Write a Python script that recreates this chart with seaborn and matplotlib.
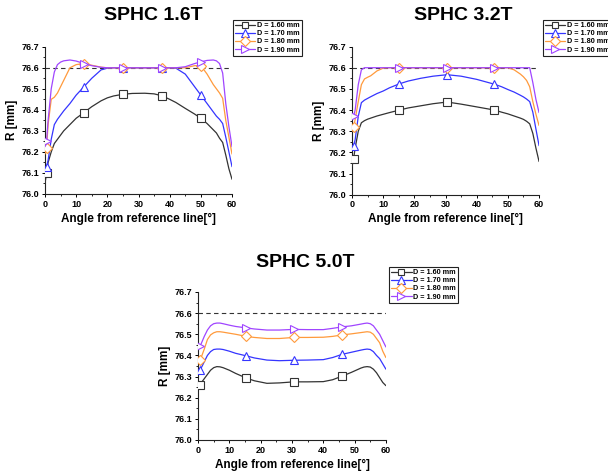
import numpy as np
import pandas as pd
import matplotlib
matplotlib.use("Agg")
import matplotlib.pyplot as plt
from matplotlib.lines import Line2D
from matplotlib.ticker import MultipleLocator
import seaborn as sns

## data
labels = ["D = 1.60 mm", "D = 1.70 mm", "D = 1.80 mm", "D = 1.90 mm"]
titles = ["SPHC 1.6T", "SPHC 3.2T", "SPHC 5.0T"]

# SPHC 1.6T
ang_16 = [0, 0.5, 1, 2, 3, 4, 5, 6, 8, 10, 12.5, 15, 18, 20, 22, 25, 28, 32, 35, 37.5,
          40, 42, 45, 48, 50, 52, 54, 55, 56, 57, 58, 59, 60]
r16_160 = [76.05, 76.10, 76.15, 76.20, 76.24, 76.26, 76.28, 76.30, 76.33, 76.36, 76.387, 76.415,
           76.443, 76.457, 76.466, 76.474, 76.478, 76.479, 76.476, 76.467, 76.45, 76.435, 76.407,
           76.38, 76.36, 76.335, 76.305, 76.29, 76.265, 76.245, 76.185, 76.12, 76.07]
r16_170 = [76.12, 76.13, 76.16, 76.26, 76.33, 76.355, 76.375, 76.395, 76.43, 76.47, 76.51, 76.55,
           76.59, 76.598, 76.60, 76.60, 76.60, 76.60, 76.60, 76.60, 76.60, 76.598, 76.57,
           76.51, 76.47, 76.43, 76.39, 76.37, 76.355, 76.335, 76.27, 76.20, 76.13]
r16_180 = [76.19, 76.22, 76.33, 76.45, 76.46, 76.48, 76.51, 76.54, 76.60, 76.615, 76.62, 76.612,
           76.603, 76.60, 76.60, 76.60, 76.60, 76.60, 76.60, 76.60, 76.60, 76.60, 76.60,
           76.61, 76.61, 76.57, 76.52, 76.50, 76.48, 76.455, 76.35, 76.27, 76.19]
r16_190 = [76.225, 76.25, 76.35, 76.50, 76.58, 76.615, 76.627, 76.633, 76.637, 76.632, 76.62, 76.61,
           76.602, 76.60, 76.60, 76.60, 76.60, 76.60, 76.60, 76.60, 76.60, 76.60, 76.605,
           76.62, 76.628, 76.635, 76.637, 76.633, 76.62, 76.575, 76.43, 76.32, 76.225]
mark_16 = [1, 10, 15, 19, 24]

# SPHC 3.2T
ang_32 = [0, 0.5, 1, 2, 3, 4, 5, 6, 8, 10, 12, 15.2, 18, 22, 26, 30.5, 35, 40, 45.7, 48,
          50, 52, 54, 55, 56, 57, 58, 59, 60]
r32_160 = [76.134, 76.17, 76.22, 76.30, 76.34, 76.35, 76.357, 76.362, 76.372, 76.38, 76.388, 76.40,
           76.41, 76.42, 76.43, 76.438, 76.428, 76.415, 76.40, 76.39, 76.382, 76.372, 76.362,
           76.356, 76.347, 76.335, 76.29, 76.22, 76.157]
r32_170 = [76.23, 76.23, 76.26, 76.37, 76.435, 76.447, 76.455, 76.463, 76.478, 76.49, 76.505, 76.524,
           76.537, 76.55, 76.56, 76.567, 76.56, 76.545, 76.522, 76.51, 76.497, 76.485, 76.47,
           76.462, 76.452, 76.44, 76.39, 76.31, 76.232]
r32_180 = [76.30, 76.32, 76.355, 76.44, 76.52, 76.547, 76.555, 76.562, 76.585, 76.598, 76.60, 76.60,
           76.60, 76.60, 76.60, 76.60, 76.60, 76.60, 76.60, 76.60, 76.60, 76.59, 76.57,
           76.557, 76.54, 76.51, 76.44, 76.38, 76.327]
r32_190 = [76.378, 76.37, 76.40, 76.52, 76.59, 76.60, 76.60, 76.60, 76.60, 76.60, 76.60, 76.60,
           76.60, 76.60, 76.60, 76.60, 76.60, 76.60, 76.60, 76.60, 76.60, 76.60, 76.60,
           76.60, 76.60, 76.60, 76.53, 76.45, 76.388]
mark_32 = [1, 11, 15, 18]

# SPHC 5.0T
ang_50 = [0, 0.5, 1, 2, 3, 4, 5, 6, 7, 8, 10, 12, 15.4, 18, 22, 26, 30.6, 35, 40, 43,
          46, 49, 52, 53, 54, 55, 56, 57, 58, 59, 60]
r50_160 = [76.252, 76.258, 76.27, 76.29, 76.31, 76.33, 76.342, 76.347, 76.346, 76.342, 76.33, 76.315,
           76.293, 76.28, 76.268, 76.27, 76.275, 76.275, 76.276, 76.285, 76.302, 76.32, 76.34,
           76.345, 76.347, 76.345, 76.335, 76.318, 76.295, 76.272, 76.257]
r50_170 = [76.33, 76.33, 76.34, 76.37, 76.40, 76.418, 76.428, 76.43, 76.43, 76.428, 76.42, 76.41,
           76.398, 76.388, 76.378, 76.375, 76.377, 76.378, 76.38, 76.39, 76.405, 76.415, 76.425,
           76.428, 76.43, 76.428, 76.418, 76.40, 76.385, 76.36, 76.335]
r50_180 = [76.375, 76.38, 76.39, 76.43, 76.475, 76.497, 76.507, 76.512, 76.512, 76.51, 76.505, 76.50,
           76.49, 76.485, 76.48, 76.48, 76.485, 76.485, 76.486, 76.49, 76.497, 76.502, 76.508,
           76.51, 76.512, 76.51, 76.50, 76.48, 76.46, 76.42, 76.39]
r50_190 = [76.44, 76.445, 76.455, 76.49, 76.52, 76.54, 76.55, 76.553, 76.553, 76.55, 76.543, 76.537,
           76.53, 76.525, 76.52, 76.52, 76.523, 76.522, 76.522, 76.528, 76.535, 76.54, 76.548,
           76.551, 76.553, 76.55, 76.54, 76.52, 76.50, 76.47, 76.44]
mark_50 = [1, 12, 16, 20]

colors = ["#333333", "#3535FF", "#FF9A3C", "#A045FF"]
markers = ["s", "^", "D", ">"]
msizes = [5.5, 6, 5.2, 6]

sns.set_style("ticks")
plt.rcParams["font.family"] = ["Liberation Sans", "DejaVu Sans"]
plt.rcParams["font.weight"] = "bold"
plt.rcParams["text.color"] = "black"
plt.rcParams["axes.labelcolor"] = "black"
plt.rcParams["xtick.color"] = "black"
plt.rcParams["ytick.color"] = "black"

fig = plt.figure(figsize=(6.08, 4.75), dpi=100)
axes_pos = [[0.074, 0.5916, 0.3076, 0.310],
            [0.579, 0.590, 0.3076, 0.312],
            [0.3257, 0.0737, 0.309, 0.3116]]
title_pos = [(0.2516, 0.968), (0.7615, 0.968), (0.5016, 0.4484)]
legend_pos = [(0.383, 0.958), (0.893, 0.958), (0.640, 0.438)]

panels = [(ang_16, [r16_160, r16_170, r16_180, r16_190], mark_16),
          (ang_32, [r32_160, r32_170, r32_180, r32_190], mark_32),
          (ang_50, [r50_160, r50_170, r50_180, r50_190], mark_50)]

for k, (ang, series, marks) in enumerate(panels):
    ax = fig.add_axes(axes_pos[k])
    ax.axhline(76.6, ls=(0, (4, 3)), color="#333333", lw=0.8, zorder=1)
    for i, vals in enumerate(series):
        sns.lineplot(x=ang, y=vals, ax=ax, color=colors[i], lw=0.9, marker=markers[i],
                     markevery=marks, ms=msizes[i], mfc="white", mec=colors[i], mew=0.8,
                     zorder=3 + i)
    ax.set_xlim(0, 60)
    ax.set_ylim(76.0, 76.7)
    ax.xaxis.set_major_locator(MultipleLocator(10))
    ax.xaxis.set_minor_locator(MultipleLocator(5))
    ax.yaxis.set_major_locator(MultipleLocator(0.1))
    ax.yaxis.set_minor_locator(MultipleLocator(0.05))
    ax.yaxis.set_major_formatter(plt.FormatStrFormatter("%.1f"))
    ax.tick_params(which="major", direction="out", length=2.5, width=0.7, labelsize=6.5, pad=1.5)
    ax.tick_params(which="minor", direction="out", length=1.5, width=0.6)
    for lab in ax.get_xticklabels() + ax.get_yticklabels():
        lab.set_fontweight("bold")
    sns.despine(ax=ax)
    for s in ["left", "bottom"]:
        ax.spines[s].set_linewidth(0.8)
        ax.spines[s].set_color("#222222")
    ax.set_xlabel("Angle from reference line[°]", fontsize=8.5, fontweight="bold", labelpad=3)
    ax.set_ylabel("R [mm]", fontsize=8.5, fontweight="bold", labelpad=3)
    fig.text(title_pos[k][0], title_pos[k][1], titles[k], ha="center", va="center",
             fontsize=14, fontweight="bold", color="black")
    handles = [Line2D([], [], color=colors[i], lw=0.9, marker=markers[i], ms=msizes[i] - 0.5,
                      mfc="white", mec=colors[i], mew=0.8) for i in range(4)]
    leg = ax.legend(handles, labels, loc="upper left", bbox_to_anchor=legend_pos[k],
                    bbox_transform=fig.transFigure, fontsize=5.2, frameon=True, fancybox=False,
                    edgecolor="#222222", framealpha=1, borderpad=0.3, labelspacing=0.15,
                    handlelength=2.8, handletextpad=0.2, borderaxespad=0)
    leg.get_frame().set_linewidth(0.8)

plt.savefig("out.png", dpi=100)
